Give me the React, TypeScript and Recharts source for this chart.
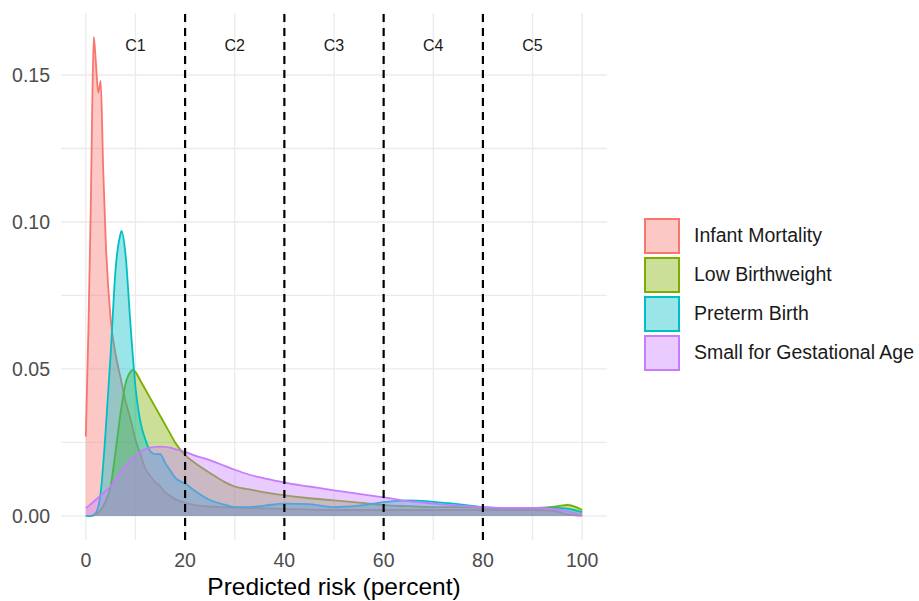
import React from 'react';
import {
  ComposedChart,
  Area,
  XAxis,
  YAxis,
  CartesianGrid,
  ReferenceLine,
  ReferenceDot,
  Legend,
  Label,
} from 'recharts';

// ---- series meta ----
const seriesNames = ['Infant Mortality', 'Low Birthweight', 'Preterm Birth', 'Small for Gestational Age'];
const seriesColors = ['#F8766D', '#7CAE00', '#00BFC4', '#C77CFF'];

// ---- Infant Mortality density ----
const imRisk = [0, 0.5, 1, 1.3, 1.6, 2, 2.5, 3, 3.5, 4, 5, 6, 7, 8, 9, 10, 11, 12, 13, 14, 15, 16, 17, 18, 20, 22, 25, 30, 35, 40, 50, 60, 70, 80, 90, 94, 97, 100];
const imDensity = [0.027, 0.062, 0.105, 0.14, 0.163, 0.155, 0.144, 0.148, 0.118, 0.094, 0.067, 0.055, 0.047, 0.039, 0.033, 0.026, 0.021, 0.016, 0.0135, 0.0115, 0.01, 0.008, 0.0068, 0.0057, 0.0044, 0.0037, 0.0032, 0.0028, 0.0026, 0.0024, 0.002, 0.002, 0.002, 0.002, 0.002, 0.0018, 0.0005, 0.0];

// ---- Low Birthweight density ----
const lbRisk = [0, 1, 2, 3, 4, 5, 6, 7, 8, 9, 9.5, 10, 11, 12, 13, 14, 15, 16, 17, 18, 20, 22, 25, 28, 30, 33, 36, 40, 45, 50, 55, 60, 65, 70, 75, 80, 85, 90, 95, 97, 100];
const lbDensity = [0, 0, 0.0005, 0.002, 0.005, 0.01, 0.022, 0.035, 0.045, 0.049, 0.0497, 0.049, 0.046, 0.043, 0.04, 0.037, 0.034, 0.031, 0.028, 0.025, 0.0207, 0.018, 0.0146, 0.0115, 0.01, 0.009, 0.008, 0.007, 0.006, 0.0053, 0.0045, 0.0037, 0.0033, 0.003, 0.003, 0.0028, 0.0027, 0.0027, 0.0033, 0.0037, 0.002];

// ---- Preterm Birth density ----
const pbRisk = [0, 1, 2, 3, 4, 5, 6, 7, 7.2, 8, 9, 10, 11, 12, 13, 14, 15, 16, 17, 18, 20, 22, 25, 28, 30, 33, 36, 40, 45, 50, 55, 60, 65, 70, 75, 80, 85, 90, 95, 97, 100];
const pbDensity = [0, 0, 0.001, 0.008, 0.029, 0.055, 0.084, 0.096, 0.097, 0.089, 0.065, 0.044, 0.032, 0.026, 0.022, 0.021, 0.021, 0.018, 0.0155, 0.013, 0.011, 0.0085, 0.0054, 0.0038, 0.003, 0.003, 0.0035, 0.0042, 0.004, 0.003, 0.0035, 0.0047, 0.0053, 0.0048, 0.004, 0.003, 0.0027, 0.0027, 0.0027, 0.0025, 0.0013];

// ---- Small for Gestational Age density ----
const sgaRisk = [0, 1, 2, 3, 4, 5, 6, 7, 8, 9, 10, 11, 12, 13, 14, 15, 16, 17, 18, 20, 22, 25, 28, 30, 33, 36, 40, 45, 50, 55, 60, 65, 70, 75, 80, 85, 90, 95, 97, 100];
const sgaDensity = [0.0027, 0.004, 0.0055, 0.007, 0.0085, 0.01, 0.0125, 0.015, 0.017, 0.019, 0.0205, 0.0218, 0.0227, 0.0232, 0.0235, 0.0236, 0.0235, 0.0232, 0.0227, 0.0218, 0.0205, 0.019, 0.017, 0.0157, 0.014, 0.0128, 0.0113, 0.01, 0.0087, 0.0075, 0.0063, 0.005, 0.0042, 0.0035, 0.003, 0.0027, 0.0027, 0.0022, 0.0015, 0.0003];

// ---- axes / annotations ----
const xGridTicks = [0, 10, 20, 30, 40, 50, 60, 70, 80, 90, 100];
const xLabelTicks = [0, 20, 40, 60, 80, 100];
const yGridTicks = [0, 0.025, 0.05, 0.075, 0.1, 0.125, 0.15];
const yLabelTicks = [0, 0.05, 0.1, 0.15];
const xDomain = [-5, 105];
const yDomain = [-0.0082, 0.1711];
const cutoffs = [20, 40, 60, 80];
const clusterNames = ['C1', 'C2', 'C3', 'C4', 'C5'];
const clusterCenters = [10, 30, 50, 70, 90];
const clusterLabelLevel = 0.16;

const xTitle = 'Predicted risk (percent)';

const toPoints = (xs: number[], ys: number[]) => xs.map((x, i) => ({ risk: x, density: ys[i] }));

const seriesData = [
  toPoints(imRisk, imDensity),
  toPoints(lbRisk, lbDensity),
  toPoints(pbRisk, pbDensity),
  toPoints(sgaRisk, sgaDensity),
];

const FONT = '"Liberation Sans", Arial, Helvetica, sans-serif';
const FILL_ALPHA = 0.4;

const hexToRgba = (hex: string, a: number) => {
  const n = parseInt(hex.slice(1), 16);
  return `rgba(${(n >> 16) & 255}, ${(n >> 8) & 255}, ${n & 255}, ${a})`;
};

const LegendContent = () => (
  <div style={{ fontFamily: FONT }}>
    {seriesNames.map((name, i) => (
      <div key={name} style={{ display: 'flex', alignItems: 'center', height: 39 }}>
        <div
          style={{
            width: 32,
            height: 32,
            boxSizing: 'content-box',
            border: `2px solid ${seriesColors[i]}`,
            background: hexToRgba(seriesColors[i], FILL_ALPHA),
          }}
        />
        <span style={{ marginLeft: 14, fontSize: 19.5, color: '#1A1A1A', whiteSpace: 'nowrap' }}>{name}</span>
      </div>
    ))}
  </div>
);

export default function App() {
  return (
    <div style={{ position: 'absolute', left: 0, top: 0, background: '#fff' }}>
      <ComposedChart width={919} height={601} margin={{ top: 13, right: 312, bottom: 0, left: 0 }}>
        <CartesianGrid stroke="#EBEBEB" strokeWidth={1.3} syncWithTicks />
        <XAxis
          type="number"
          dataKey="risk"
          domain={xDomain}
          ticks={xGridTicks}
          interval={0}
          allowDataOverflow
          axisLine={false}
          tickLine={false}
          tickSize={0}
          tickMargin={13}
          height={61}
          tick={{ fill: '#4D4D4D', fontSize: 19.5, fontFamily: FONT }}
          tickFormatter={(v: number) => (xLabelTicks.includes(v) ? String(v) : '')}
        >
          <Label
            value={xTitle}
            position="insideBottom"
            offset={6}
            style={{ fill: '#000', fontSize: 24.5, fontFamily: FONT }}
          />
        </XAxis>
        <YAxis
          type="number"
          domain={yDomain}
          ticks={yGridTicks}
          interval={0}
          allowDataOverflow
          axisLine={false}
          tickLine={false}
          tickSize={0}
          tickMargin={11}
          width={61}
          tick={{ fill: '#4D4D4D', fontSize: 19.5, fontFamily: FONT }}
          tickFormatter={(v: number) => (yLabelTicks.includes(v) ? v.toFixed(2) : '')}
        />
        {seriesNames.map((name, i) => (
          <Area
            key={name}
            name={name}
            data={seriesData[i]}
            dataKey="density"
            type="monotone"
            stroke={seriesColors[i]}
            strokeWidth={1.8}
            fill={seriesColors[i]}
            fillOpacity={FILL_ALPHA}
            dot={false}
            activeDot={false}
            isAnimationActive={false}
          />
        ))}
        {cutoffs.map((c) => (
          <ReferenceLine key={c} x={c} stroke="#000" strokeWidth={2.2} strokeDasharray="8 6" />
        ))}
        {clusterNames.map((c, i) => (
          <ReferenceDot
            key={c}
            x={clusterCenters[i]}
            y={clusterLabelLevel}
            r={0}
            fill="none"
            stroke="none"
            label={{ value: c, position: 'center', fill: '#1A1A1A', fontSize: 16, fontFamily: FONT }}
          />
        ))}
        <Legend
          layout="vertical"
          align="center"
          verticalAlign="middle"
          wrapperStyle={{ left: 644, top: 216, width: 275 }}
          content={() => <LegendContent />}
        />
      </ComposedChart>
    </div>
  );
}
